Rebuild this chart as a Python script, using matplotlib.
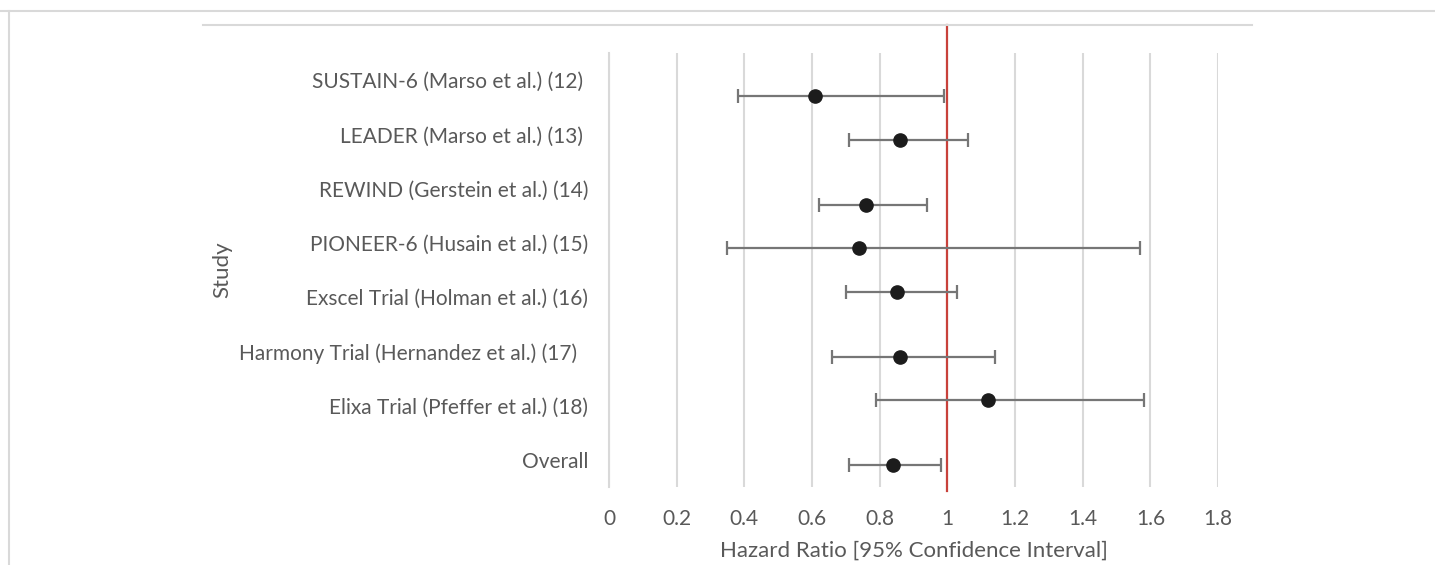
import matplotlib
matplotlib.use("Agg")
import matplotlib.pyplot as plt
from matplotlib.lines import Line2D

# ---- data ----
studies = [
    "SUSTAIN-6 (Marso et al.) (12) ",
    "LEADER (Marso et al.) (13) ",
    "REWIND (Gerstein et al.) (14)",
    "PIONEER-6 (Husain et al.) (15)",
    "Exscel Trial (Holman et al.) (16)",
    "Harmony Trial (Hernandez et al.) (17)  ",
    "Elixa Trial (Pfeffer et al.) (18)",
    "Overall",
]
hazard_ratio = [0.61, 0.86, 0.76, 0.74, 0.85, 0.86, 1.12, 0.84]
ci_low = [0.38, 0.71, 0.62, 0.35, 0.70, 0.66, 0.79, 0.71]
ci_high = [0.99, 1.06, 0.94, 1.57, 1.03, 1.14, 1.58, 0.98]
point_y = [18, 16, 13, 11, 9, 6, 4, 1]
x_ticks = [0, 0.2, 0.4, 0.6, 0.8, 1.0, 1.2, 1.4, 1.6, 1.8]
x_tick_labels = ["0", "0.2", "0.4", "0.6", "0.8", "1", "1.2", "1.4", "1.6", "1.8"]
reference_hr = 1.0

plt.rcParams['font.family'] = ['Lato', 'DejaVu Sans']
TXT = "#595959"
GRID = "#d9d9d9"

W, H = 1435, 565
fig = plt.figure(figsize=(W / 100, H / 100), dpi=100)
ax = fig.add_axes([609 / W, 1 - 487 / H, (1218 - 609) / W, (487 - 53) / H])

ax.set_xlim(0, 1.8)
ax.set_ylim(0, 20)

# gridlines
ax.set_xticks(x_ticks)
ax.set_xticklabels(x_tick_labels, color=TXT, fontsize=15)
ax.grid(axis='x', color=GRID, linewidth=1.5)
ax.set_axisbelow(True)
for s in ["top", "right", "bottom"]:
    ax.spines[s].set_visible(False)
ax.spines["left"].set_color(GRID)
ax.spines["left"].set_linewidth(1.5)
ax.tick_params(axis='x', length=0, pad=16)
ax.tick_params(axis='y', length=0, pad=15)

# category labels evenly spaced
n = len(studies)
label_pos = [(n - i - 0.5) * 20 / n for i in range(n)]
ax.set_yticks(label_pos)
ax.set_yticklabels(studies, color=TXT, fontsize=15)

# reference line at HR = 1
ax.plot([reference_hr, reference_hr], [-0.2, 21.3], color="#C8413B",
        linewidth=1.6, clip_on=False, zorder=2)

# error bars and points
xerr = [[h - l for h, l in zip(hazard_ratio, ci_low)],
        [u - h for h, u in zip(hazard_ratio, ci_high)]]
ax.errorbar(hazard_ratio, point_y, xerr=xerr, fmt='none', ecolor="#767676",
            elinewidth=1.6, capsize=5, capthick=1.6, zorder=3)
ax.plot(hazard_ratio, point_y, 'o', color="#1c1c1c", markersize=9.5, zorder=4)

ax.set_xlabel("Hazard Ratio [95% Confidence Interval]", color=TXT, fontsize=16, labelpad=8)
ax.set_ylabel("Study", color=TXT, fontsize=16)
ax.yaxis.set_label_coords((232 - 609) / (1218 - 609), 0.5)

# chart frame lines
fig.add_artist(Line2D([0, 1], [1 - 11 / H, 1 - 11 / H], color=GRID, linewidth=1.5))
fig.add_artist(Line2D([9 / W, 9 / W], [0, 1 - 11 / H], color=GRID, linewidth=1.5))
fig.add_artist(Line2D([203 / W, 1252 / W], [1 - 25 / H, 1 - 25 / H], color=GRID, linewidth=1.5))

fig.savefig("out.png", dpi=100, facecolor="white")
